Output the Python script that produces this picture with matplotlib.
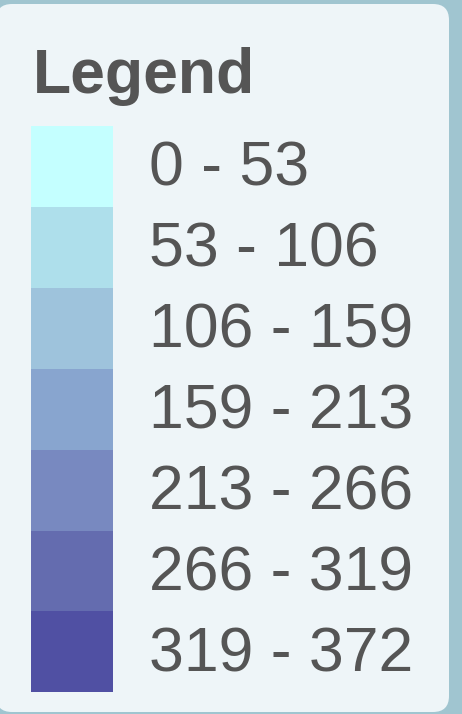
import matplotlib.pyplot as plt
from matplotlib.patches import FancyBboxPatch

labels = ['0 - 53', '53 - 106', '106 - 159', '159 - 213', '213 - 266', '266 - 319', '319 - 372']
colors = ['#c4ffff', '#aedfeb', '#9ec3dc', '#88a5cf', '#7889c0', '#646caf', '#5050a3']
title = 'Legend'

W, H = 462, 714
fig = plt.figure(figsize=(W / 100, H / 100), dpi=100)
fig.patch.set_facecolor('#a0c5d0')
ax = fig.add_axes([0, 0, 1, 1])
ax.set_xlim(0, W)
ax.set_ylim(H, 0)
ax.axis('off')

panel = FancyBboxPatch((-4, 4), 453, 708, boxstyle='round,pad=0,rounding_size=16',
                       facecolor='#eef5f8', edgecolor='none')
ax.add_patch(panel)

ax.text(33, 93, title, fontsize=45, fontweight='bold', color='#555555',
        family='Liberation Sans', va='baseline', ha='left')

top = 126
step = 80.9
for i, (lab, c) in enumerate(zip(labels, colors)):
    y0 = top + i * step
    ax.bar(72, step, width=82, bottom=y0, color=c, linewidth=0)
    ax.text(149, y0 + 60, lab, fontsize=45, color='#555555',
            family='Liberation Sans', va='baseline', ha='left')

fig.savefig('out.png', dpi=100, facecolor=fig.get_facecolor())
